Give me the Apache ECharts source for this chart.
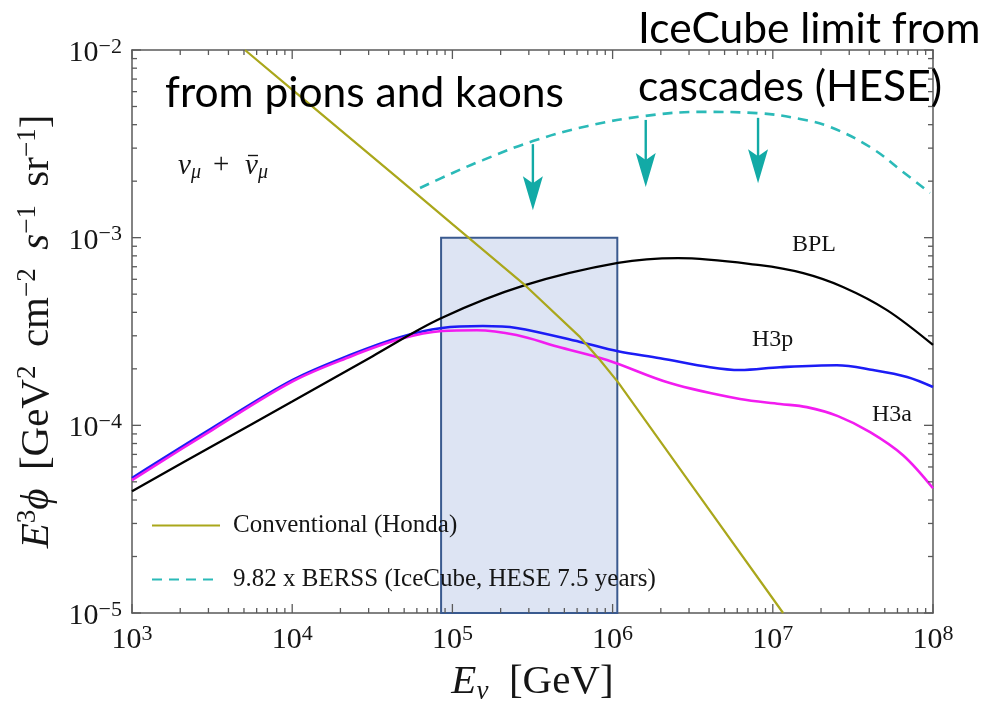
<!DOCTYPE html>
<html>
<head>
<meta charset="utf-8">
<script src="https://cdn.jsdelivr.net/npm/echarts@6/dist/echarts.min.js"></script>
<style>
  html, body { margin: 0; padding: 0; background: #ffffff; }
  #chart { width: 984px; height: 710px; }
</style>
</head>
<body>
<div id="chart"></div>
<script>
// Neutrino energy E (GeV) and E^3 * flux (GeV^2 cm^-2 s^-1 sr^-1), nu_mu + anti-nu_mu

// Conventional atmospheric flux (Honda)
const convE   = [5.07e3, 1.0e4, 4.71e4, 1.0e5, 2.84e5, 6.27e5, 8.34e5, 1.08e6, 3.16e6, 1.16e7];
const convPhi = [1.0e-2, 6.15e-3, 2.03e-3, 1.18e-3, 5.58e-4, 2.95e-4, 2.23e-4, 1.70e-4, 4.72e-5, 1.0e-5];

// Prompt flux, broken power law primary model
const bplE   = [1e3, 3.16e3, 1e4, 3.16e4, 8.49e4, 2.84e5, 1.08e6, 2.56e6, 8.32e6, 1.55e7, 2.74e7, 5.16e7, 1e8];
const bplPhi = [4.46e-5, 7.73e-5, 1.34e-4, 2.33e-4, 3.72e-4, 5.58e-4, 7.33e-4, 7.78e-4, 7.14e-4, 6.47e-4, 5.46e-4, 4.11e-4, 2.68e-4];

// Prompt flux, H3p primary model
const h3pE   = [1e3, 3.16e3, 1e4, 2.30e4, 4.71e4, 8.61e4, 1.55e5, 2.51e5, 6.27e5, 1.08e6, 1.98e6, 4.06e6, 6.24e6, 1.11e7, 2.51e7, 4.23e7, 6.89e7, 1e8];
const h3pPhi = [5.24e-5, 9.66e-5, 1.74e-4, 2.37e-4, 2.95e-4, 3.30e-4, 3.38e-4, 3.30e-4, 2.78e-4, 2.48e-4, 2.28e-4, 2.04e-4, 1.97e-4, 2.04e-4, 2.09e-4, 1.97e-4, 1.81e-4, 1.60e-4];

// Prompt flux, H3a primary model
const h3aE   = [1e3, 3.16e3, 1e4, 2.30e4, 4.71e4, 8.61e4, 1.42e5, 2.51e5, 4.50e5, 9.23e5, 2.28e6, 6.24e6, 1.11e7, 1.63e7, 2.55e7, 4.05e7, 6.50e7, 1e8];
const h3aPhi = [5.11e-5, 9.44e-5, 1.71e-4, 2.32e-4, 2.88e-4, 3.18e-4, 3.21e-4, 3.03e-4, 2.63e-4, 2.23e-4, 1.68e-4, 1.38e-4, 1.30e-4, 1.25e-4, 1.12e-4, 9.20e-5, 6.93e-5, 4.62e-5];

// 9.82 x BERSS, IceCube HESE 7.5 years limit
const berssE   = [6.28e4, 9.66e4, 1.55e5, 3.18e5, 7.01e5, 1.59e6, 3.52e6, 7.96e6, 1.48e7, 2.28e7, 4.05e7, 6.50e7, 9.57e7];
const berssPhi = [1.84e-3, 2.18e-3, 2.59e-3, 3.27e-3, 3.94e-3, 4.45e-3, 4.68e-3, 4.61e-3, 4.29e-3, 3.89e-3, 3.04e-3, 2.24e-3, 1.73e-3];

// Downward "upper limit" arrows hanging from the limit curve
const limitE    = [3.18e5, 1.61e6, 8.09e6];
const limitFrom = [3.15e-3, 4.24e-3, 4.35e-3];
const limitTo   = [1.40e-3, 1.86e-3, 1.95e-3];

// Highlighted energy window
const boxE   = [8.5e4, 1.07e6];
const boxPhi = [1e-5, 1e-3];

// Axis decades (tick labels 10^n) and minor tick steps inside a decade
const xDecades = [3, 4, 5, 6, 7, 8];
const yDecades = [-5, -4, -3, -2];
const minorSteps = [2, 3, 4, 5, 6, 7, 8, 9];

const pair = (xs, ys) => xs.map((x, i) => [x, ys[i]]);

const serif = "'Liberation Serif', 'Times New Roman', serif";
const sans = "Lato, 'Open Sans', sans-serif";
const frame = '#5a5a5a';
const ink = '#151515';

const xMin = Math.pow(10, xDecades[0]), xMax = Math.pow(10, xDecades[xDecades.length - 1]);
const yMin = Math.pow(10, yDecades[0]), yMax = Math.pow(10, yDecades[yDecades.length - 1]);

// Frame tick marks: [E, phi, axis (0 = horizontal, 1 = vertical), major flag]
const frameTicks = [];
xDecades.forEach((d, k) => {
  frameTicks.push([Math.pow(10, d), yMin, 0, 1]);
  if (k < xDecades.length - 1) minorSteps.forEach(m => frameTicks.push([m * Math.pow(10, d), yMin, 0, 0]));
});
yDecades.forEach((d, k) => {
  frameTicks.push([xMin, Math.pow(10, d), 1, 1]);
  if (k < yDecades.length - 1) minorSteps.forEach(m => frameTicks.push([xMin, m * Math.pow(10, d), 1, 0]));
});

function powerLabel(v) {
  const e = Math.round(Math.log10(v));
  return '{b|10}{s|' + String(e).replace('-', '\u2212') + '}';
}
const tickRich = {
  b: { fontFamily: serif, fontSize: 30, color: ink, lineHeight: 34 },
  s: { fontFamily: serif, fontSize: 22, color: ink, lineHeight: 22, verticalAlign: 'top' }
};
const nameRich = {
  i: { fontFamily: serif, fontSize: 41, fontStyle: 'italic', color: ink, lineHeight: 46 },
  r: { fontFamily: serif, fontSize: 41, color: ink, lineHeight: 46 },
  sup: { fontFamily: serif, fontSize: 27, color: ink, lineHeight: 27, verticalAlign: 'top' },
  sub: { fontFamily: serif, fontSize: 27, fontStyle: 'italic', color: ink, lineHeight: 21, verticalAlign: 'bottom' }
};

const axisLine = { show: true, lineStyle: { color: frame, width: 1.5 } };

function tickItem(params, api) {
  const cs = params.coordSys;
  const p = api.coord([api.value(0), api.value(1)]);
  const len = api.value(3) ? 9 : 5;
  const st = { stroke: frame, lineWidth: 1.3 };
  if (api.value(2) === 0) {
    const b = cs.y + cs.height, t = cs.y;
    return { type: 'group', children: [
      { type: 'line', shape: { x1: p[0], y1: b, x2: p[0], y2: b - len }, style: st },
      { type: 'line', shape: { x1: p[0], y1: t, x2: p[0], y2: t + len }, style: st }
    ] };
  }
  const l = cs.x, r = cs.x + cs.width;
  return { type: 'group', children: [
    { type: 'line', shape: { x1: l, y1: p[1], x2: l + len, y2: p[1] }, style: st },
    { type: 'line', shape: { x1: r, y1: p[1], x2: r - len, y2: p[1] }, style: st }
  ] };
}
function limitArrow(params, api) {
  const p0 = api.coord([api.value(0), api.value(1)]);
  const p1 = api.coord([api.value(0), api.value(2)]);
  const x = p1[0], tip = p1[1];
  const color = '#12aaa6';
  return { type: 'group', children: [
    { type: 'line', shape: { x1: x, y1: p0[1], x2: x, y2: tip - 24 }, style: { stroke: color, lineWidth: 2.4 } },
    { type: 'polygon', shape: { points: [[x - 10, tip - 34], [x, tip - 27], [x + 10, tip - 34], [x, tip]] }, style: { fill: color } }
  ] };
}

const chart = echarts.init(document.getElementById('chart'), null, { renderer: 'canvas' });

const italic = (s, x, y, size) => ({ type: 'text', x: x, y: y, z: 10,
  style: { text: s, fontFamily: serif, fontStyle: 'italic', fontSize: size, fill: ink, align: 'left', verticalAlign: 'middle' } });

chart.setOption({
  animation: false,
  backgroundColor: '#ffffff',
  grid: { left: 132, right: 51, top: 50, bottom: 97 },
  legend: {
    data: ['Conventional (Honda)', '9.82 x BERSS (IceCube, HESE 7.5 years)'],
    orient: 'vertical',
    left: 146,
    top: 508,
    itemWidth: 68,
    itemHeight: 14,
    itemGap: 29,
    itemStyle: { opacity: 0 },
    textStyle: { fontFamily: serif, fontSize: 25, color: ink, padding: [0, 0, 0, 8] }
  },
  xAxis: [
    {
      type: 'log', logBase: 10, min: xMin, max: xMax, position: 'bottom',
      axisLine: axisLine, axisTick: { show: false }, splitLine: { show: false },
      axisLabel: { formatter: powerLabel, rich: tickRich, margin: 10 },
      name: '{i|E}{sub|\u03bd}{r|  [GeV]}',
      nameLocation: 'middle', nameGap: 46,
      nameTextStyle: { rich: nameRich }
    },
    {
      type: 'log', logBase: 10, min: xMin, max: xMax, position: 'top',
      axisLine: axisLine, axisTick: { show: false }, splitLine: { show: false },
      axisLabel: { show: false }
    }
  ],
  yAxis: [
    {
      type: 'log', logBase: 10, min: yMin, max: yMax, position: 'left',
      axisLine: axisLine, axisTick: { show: false }, splitLine: { show: false },
      axisLabel: { formatter: powerLabel, rich: tickRich, margin: 10, padding: [6, 0, 0, 0] },
      name: '{i|E}{sup|3}{i|\u03d5}{r|\u2009 [GeV}{sup|2}{r|\u2009 cm}{sup|\u22122}{r|\u2009 }{i|s}{sup|\u22121}{r|\u2009 sr}{sup|\u22121}{r|]}',
      nameLocation: 'middle', nameRotate: 90, nameGap: 72,
      nameTextStyle: { rich: nameRich }
    },
    {
      type: 'log', logBase: 10, min: yMin, max: yMax, position: 'right',
      axisLine: axisLine, axisTick: { show: false }, splitLine: { show: false },
      axisLabel: { show: false }
    }
  ],
  series: [
    {
      name: 'window', type: 'line', data: [], z: 1, silent: true,
      markArea: {
        silent: true,
        itemStyle: { color: 'rgba(176,192,228,0.43)', borderColor: '#3a5a8f', borderWidth: 2 },
        data: [[{ coord: [boxE[0], boxPhi[0]] }, { coord: [boxE[1], boxPhi[1]] }]]
      }
    },
    {
      type: 'custom', name: 'frame ticks', renderItem: tickItem, clip: false, z: 8, silent: true,
      encode: { x: 0, y: 1 },
      data: frameTicks
    },
    {
      name: 'H3p', type: 'line', data: pair(h3pE, h3pPhi), showSymbol: false, symbol: 'none', smooth: 0.35, z: 4,
      lineStyle: { color: '#1c1cf5', width: 2.6 }
    },
    {
      name: 'H3a', type: 'line', data: pair(h3aE, h3aPhi), showSymbol: false, symbol: 'none', smooth: 0.35, z: 4,
      lineStyle: { color: '#f21cf0', width: 2.6 }
    },
    {
      name: 'BPL', type: 'line', data: pair(bplE, bplPhi), showSymbol: false, symbol: 'none', smooth: 0.35, z: 5,
      lineStyle: { color: '#000000', width: 2.3 }
    },
    {
      name: 'Conventional (Honda)', type: 'line', data: pair(convE, convPhi), showSymbol: false, symbol: 'none', z: 6,
      itemStyle: { color: '#aaa71b' },
      lineStyle: { color: '#aaa71b', width: 2.2 }
    },
    {
      name: '9.82 x BERSS (IceCube, HESE 7.5 years)', type: 'line', data: pair(berssE, berssPhi),
      showSymbol: false, symbol: 'none', smooth: 0.4, z: 6,
      itemStyle: { color: '#2bbab8' },
      lineStyle: { color: '#2bbab8', width: 2.6, type: [10, 7] }
    },
    {
      type: 'custom', name: 'limits', renderItem: limitArrow, z: 7, silent: true,
      encode: { x: 0, y: [1, 2] },
      data: limitE.map((e, i) => [e, limitFrom[i], limitTo[i]])
    }
  ],
  graphic: [
    { type: 'text', x: 165, y: 93, z: 10,
      style: { text: 'from pions and kaons', font: '42.5px ' + sans, fill: '#000', align: 'left', verticalAlign: 'middle' } },
    { type: 'text', x: 638, y: 29, z: 10,
      style: { text: 'IceCube limit from', font: '42.5px ' + sans, fill: '#000', align: 'left', verticalAlign: 'middle' } },
    { type: 'text', x: 638, y: 87, z: 10,
      style: { text: 'cascades (HESE)', font: '42.5px ' + sans, fill: '#000', align: 'left', verticalAlign: 'middle' } },
    { type: 'text', x: 792, y: 245, z: 10,
      style: { text: 'BPL', font: '24px ' + serif, fill: ink, align: 'left', verticalAlign: 'middle' } },
    { type: 'text', x: 752, y: 340, z: 10,
      style: { text: 'H3p', font: '24px ' + serif, fill: ink, align: 'left', verticalAlign: 'middle' } },
    { type: 'text', x: 872, y: 415, z: 10,
      style: { text: 'H3a', font: '24px ' + serif, fill: ink, align: 'left', verticalAlign: 'middle' } },
    // nu_mu + anti-nu_mu
    italic('\u03bd', 178, 166, 29),
    italic('\u03bc', 191, 173, 20),
    { type: 'text', x: 213, y: 165, z: 10,
      style: { text: '+', fontFamily: serif, fontSize: 29, fill: ink, align: 'left', verticalAlign: 'middle' } },
    italic('\u03bd', 245, 166, 29),
    { type: 'line', z: 10, shape: { x1: 248, y1: 155.5, x2: 258, y2: 155.5 }, style: { stroke: ink, lineWidth: 1.4 } },
    italic('\u03bc', 258, 173, 20)
  ]
});
</script>
</body>
</html>
